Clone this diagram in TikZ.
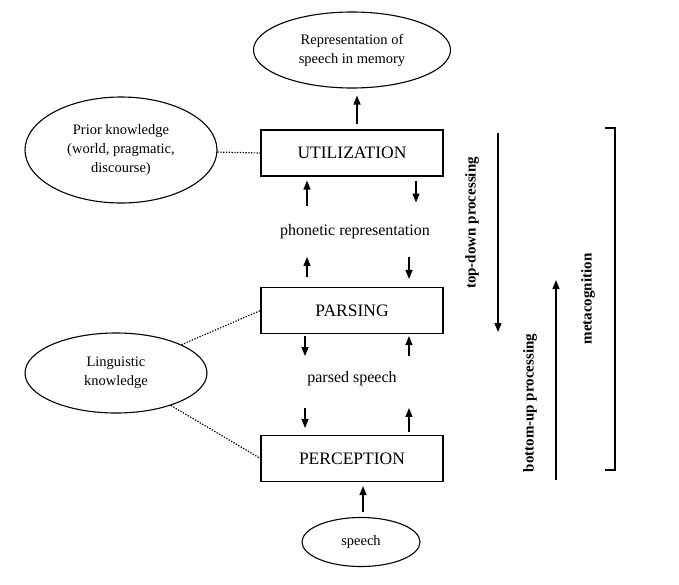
\documentclass[tikz,border=0pt]{standalone}
\usepackage{fontspec}
\setmainfont{Liberation Serif}
\usetikzlibrary{shapes.geometric,arrows.meta,calc}
\begin{document}
\begin{tikzpicture}[x=1pt,y=-1pt,
  box/.style={draw,line width=1.1pt,minimum width=182pt,minimum height=46pt,inner sep=0pt,font=\fontsize{17.5}{20}\selectfont},
  oval/.style={draw,ellipse,line width=1.1pt,inner sep=0pt,align=center,font=\fontsize{14.5}{19}\selectfont},
  mid/.style={font=\fontsize{16}{19}\selectfont},
  arr/.style={-{Triangle[length=9pt,width=7pt]},line width=1.3pt},
  dot/.style={line width=1.2pt,dash pattern=on 1.3pt off 1.5pt},
  side/.style={font=\bfseries\fontsize{15}{18}\selectfont,rotate=90}
]
\useasboundingbox (0,0) rectangle (679,584);
\node[box] (util) at (352,153) {UTILIZATION};
\node[box] (pars) at (352,310.5) {PARSING};
\node[box] (perc) at (352,458.5) {PERCEPTION};
\node[oval,minimum width=197pt,minimum height=76pt] (mem) at (352,50) {Representation of\\speech in memory};
\node[oval,minimum width=192pt,minimum height=106pt] (prior) at (121,150) {Prior knowledge\\(world, pragmatic,\\discourse)};
\node[oval,minimum width=182pt,minimum height=80pt] (ling) at (116,373) {Linguistic\\knowledge};
\node[oval,minimum width=118pt,minimum height=49pt] (speech) at (361,542) {speech};
\node[mid] (phon) at (355,232) {phonetic representation};
\node[mid] (parsed) at (352,379) {parsed speech};

% vertical flow arrows
\draw[arr] ($(util.north)+(5,-5)$) -- ($(mem.south)+(5,7)$);
\draw[arr] ($(util.south)+(-45,29)$) -- ($(util.south)+(-45,4)$);
\draw[arr] ($(util.south)+(64,4)$) -- ($(util.south)+(64,26)$);
\draw[arr] ($(pars.north)+(-45,-10)$) -- ($(pars.north)+(-45,-30)$);
\draw[arr] ($(pars.north)+(57,-30)$) -- ($(pars.north)+(57,-8)$);
\draw[arr] ($(pars.south)+(-47,2)$) -- ($(pars.south)+(-47,22)$);
\draw[arr] ($(pars.south)+(57,22)$) -- ($(pars.south)+(57,2)$);
\draw[arr] ($(perc.north)+(-47,-27)$) -- ($(perc.north)+(-47,-7)$);
\draw[arr] ($(perc.north)+(57,-3)$) -- ($(perc.north)+(57,-27)$);
\draw[arr] ($(speech.north)+(2,-5)$) -- ($(perc.south)+(11,4)$);

% dotted links
\draw[dot] (prior) -- (util.west);
\draw[dot] (ling) -- (pars.west);
\draw[dot] (ling) -- (perc.west);

% right side
\coordinate (td1) at (498,133);
\coordinate (td2) at (498,332);
\coordinate (bu1) at (556,480);
\coordinate (bu2) at (556,280);
\draw[arr] (td1) -- (td2);
\draw[arr] (bu1) -- (bu2);
\node[side] (tdlab) at (472,223) {top-down processing};
\node[side] (bulab) at (530,403) {bottom-up processing};
\node[side] (meta) at (588,299) {metacognition};
\coordinate (b1) at (605,128);
\coordinate (b2) at (615,128);
\coordinate (b3) at (615,470);
\coordinate (b4) at (605,470);
\draw[line width=1.1pt] (b1) -- (b2) -- (b3) -- (b4);
\end{tikzpicture}
\end{document}
